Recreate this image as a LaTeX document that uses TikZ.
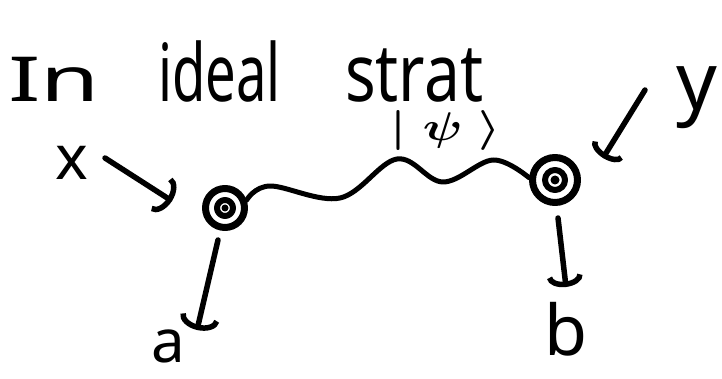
\documentclass[tikz,border=0pt]{standalone}
\usepackage{fontspec}
\setmainfont{Noto Sans}
\usetikzlibrary{arrows.meta}
\begin{document}
\begin{tikzpicture}[x=1pt,y=-1pt, line cap=round, line join=round,
  stroke/.style={line width=5.5pt},
  harrow/.style={stroke,-{Arc Barb[length=13pt,width=40pt,line width=5.5pt]}},
  lbl/.style={inner sep=0pt, anchor=base, text depth=0pt},
  blob/.style={circle, draw, line width=7pt, inner sep=0pt}]
\useasboundingbox (0,0) rectangle (722,379);
% title
\node[inner sep=0pt, anchor=base west, text depth=0pt] (title) at (8,102)
  {\makebox[150pt][l]{\fontsize{62}{62}\selectfont\scalebox{1.55}[1]{In}}%
   \makebox[187pt][l]{\fontsize{80}{80}\selectfont\scalebox{0.68}[1]{ideal}}%
   {\fontsize{80}{80}\selectfont\scalebox{0.8}[1]{strat}}};
% qubits
\node[blob, minimum size=39pt] (A) at (225,208) {};
\draw[line width=6pt] (A.center) circle[radius=8];
\fill (A.center) circle[radius=3.5];
\node[blob, minimum size=45pt] (B) at (555,180) {};
\draw[line width=6pt] (B.center) circle[radius=10];
\fill (B.center) circle[radius=4.5];
% entangling wave
\draw[line width=5pt] plot[smooth, tension=0.6] coordinates
  {(A.20) (270,186) (340,198) (397,159) (443,182) (493,160) (B.175)};
\node[inner sep=0pt, anchor=base] (psi) at (446,141) {\scalebox{5}[4.0]{\boldmath$|\;\psi\;\rangle$}};
% labels
\node[lbl, font=\fontsize{62}{62}\selectfont] (xl) at (72,180) {x};
\node[lbl, font=\fontsize{80}{80}\selectfont] (yl) at (697,110) {y};
\node[lbl, font=\fontsize{60}{60}\selectfont] (al) at (168,362) {a};
\node[lbl, font=\fontsize{70}{70}\selectfont] (bl) at (566,355) {b};
% arrows
\coordinate (xs) at (105,158);
\coordinate (xe) at (172,201);
\draw[harrow] (xs) -- (xe);
\coordinate (ys) at (645,90);
\coordinate (ye) at (603,158);
\draw[harrow, -{Arc Barb[length=10pt,width=36pt,line width=5.5pt]}] (ys) -- (ye);
\coordinate (as) at (218,240);
\coordinate (ae) at (197,330);
\draw[harrow] (as) -- (ae);
\coordinate (bs) at (558,218);
\coordinate (be) at (566,287);
\draw[harrow, -{Arc Barb[length=11pt,width=36pt,line width=5.5pt]}] (bs) -- (be);
\end{tikzpicture}
\end{document}
